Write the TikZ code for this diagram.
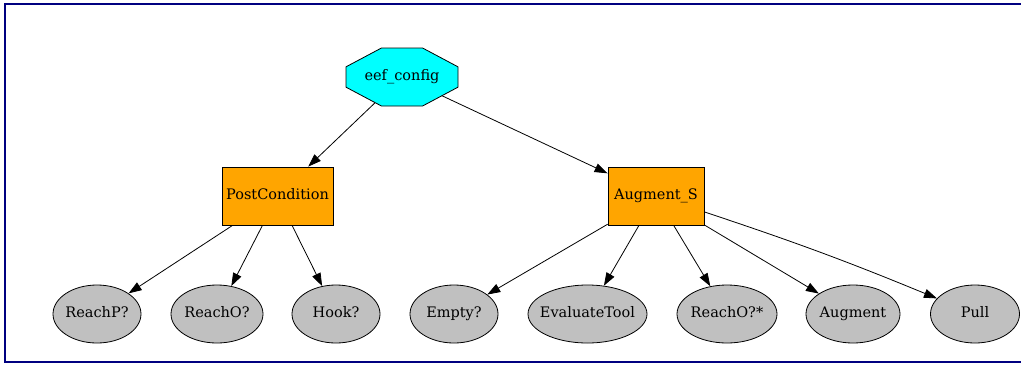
\documentclass[tikz,border=0pt]{standalone}
\usepackage{fontspec}
\setmainfont{DejaVu Serif}
\usetikzlibrary{arrows.meta,shapes.geometric,shapes.misc,positioning}
\definecolor{octcyan}{HTML}{00FFFF}
\definecolor{boxorange}{HTML}{FFA500}
\definecolor{leafgray}{HTML}{C0C0C0}
\definecolor{framenavy}{HTML}{000080}

\begin{document}
\begin{tikzpicture}[x=1pt,y=-1pt,->,>={Triangle[length=13pt,width=9pt]},line width=0.8pt,
            font=\fontsize{14.5}{16}\selectfont,
            every node/.style={text height=10.5pt,text depth=3pt},
            root node/.style={chamfered rectangle,chamfered rectangle angle=62,
            chamfered rectangle ysep=17pt,draw,fill=octcyan,inner sep=0pt,
            minimum width=112pt,minimum height=58pt},
            task node/.style={rectangle,draw,fill=boxorange,inner sep=0pt,minimum height=58pt},
            leaf node/.style={ellipse,draw,fill=leafgray,inner xsep=-6pt,inner ysep=0pt,
            minimum height=58pt}]

            \clip (0,0) rectangle (1021,365);
            \draw[-,framenavy,line width=2pt] (5,4) rectangle (1040,362);

            \node[root node] (EefConfig) at (402,77) {eef\_config};

            \node[task node,minimum width=111pt] (PostCondition) at (277.5,196) {PostCondition};
            \node[task node,minimum width=96pt] (AugmentS) at (656,196) {Augment\_S};

            \node[leaf node,minimum width=88pt] (ReachP) at (97,314) {ReachP?};
            \node[leaf node,minimum width=92pt] (ReachO) at (217,314) {ReachO?};
            \node[leaf node,minimum width=88pt] (Hook) at (336,314) {Hook?};
            \node[leaf node,minimum width=88pt] (Empty) at (454,314) {Empty?};
            \node[leaf node,minimum width=119pt] (EvaluateTool) at (587.5,314) {EvaluateTool};
            \node[leaf node,minimum width=100pt] (ReachOStar) at (727,314) {ReachO?*};
            \node[leaf node,minimum width=94pt] (Augment) at (853,314) {Augment};
            \node[leaf node,minimum width=89pt] (Pull) at (975,314) {Pull};

            \draw [->] (EefConfig) edge (PostCondition) (EefConfig) edge (AugmentS);

            \draw [->] (PostCondition) edge (ReachP) (PostCondition) edge (ReachO)
            (PostCondition) edge (Hook);

            \draw [->] (AugmentS) edge (Empty) (AugmentS) edge (EvaluateTool)
            (AugmentS) edge (ReachOStar) (AugmentS) edge (Augment);
            \draw [->] (AugmentS) edge [bend left=2] (Pull);
\end{tikzpicture}
\end{document}
